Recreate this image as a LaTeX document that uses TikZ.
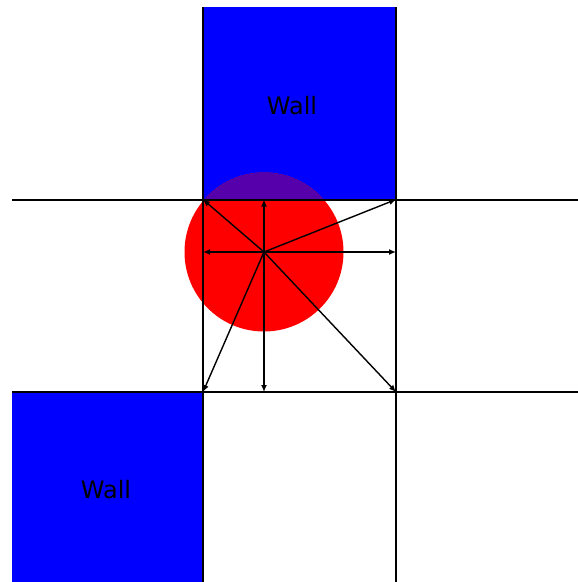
\documentclass[tikz,border=0pt]{standalone}
\usepackage{fontspec}
\newfontfamily\wallfont{DejaVu Sans}
\definecolor{wallblue}{RGB}{0,0,255}
\definecolor{ballred}{RGB}{255,0,0}
\definecolor{ballover}{RGB}{85,0,170}
\usetikzlibrary{arrows.meta}

\begin{document}
\begin{tikzpicture}[x=1pt, y=-1pt,
        wall/.style={fill=wallblue},
        walltext/.style={font=\wallfont\fontsize{24}{28}\selectfont, text=black},
        gridline/.style={line width=2pt, black},
        ray/.style={-{Latex[length=7pt, width=6pt]}, line width=1.4pt, black}
      ]
        \useasboundingbox (0,0) rectangle (578,582);

        % walls
        \fill[wall] (203,7) rectangle (396,199.5);
        \fill[wall] (12,392) rectangle (203,582);

        % ball, darker where it sits under the wall
        \coordinate (ctr) at (264,252);
        \fill[ballred] (ctr) circle (79.5pt);
        \begin{scope}
          \clip (203,7) rectangle (396,199.5);
          \fill[ballover] (ctr) circle (79.5pt);
        \end{scope}

        % grid
        \draw[gridline] (12,199.5) -- (578,199.5);
        \draw[gridline] (12,392)   -- (578,392);
        \draw[gridline] (203,7)    -- (203,582);
        \draw[gridline] (396,7)    -- (396,582);

        % cell border points
        \coordinate (tl) at (203,199.5);
        \coordinate (tm) at (264,199.5);
        \coordinate (tr) at (396,199.5);
        \coordinate (ml) at (203,252);
        \coordinate (mr) at (396,252);
        \coordinate (bl) at (203,392);
        \coordinate (bm) at (264,392);
        \coordinate (br) at (396,392);

        \foreach \p in {tl,tm,tr,ml,mr,bl,bm,br}
          \draw[ray] (ctr) -- (\p);

        \node[walltext] (wallN) at (292,105.5) {Wall};
        \node[walltext] (wallS) at (106,490)   {Wall};
      \end{tikzpicture}
\end{document}
